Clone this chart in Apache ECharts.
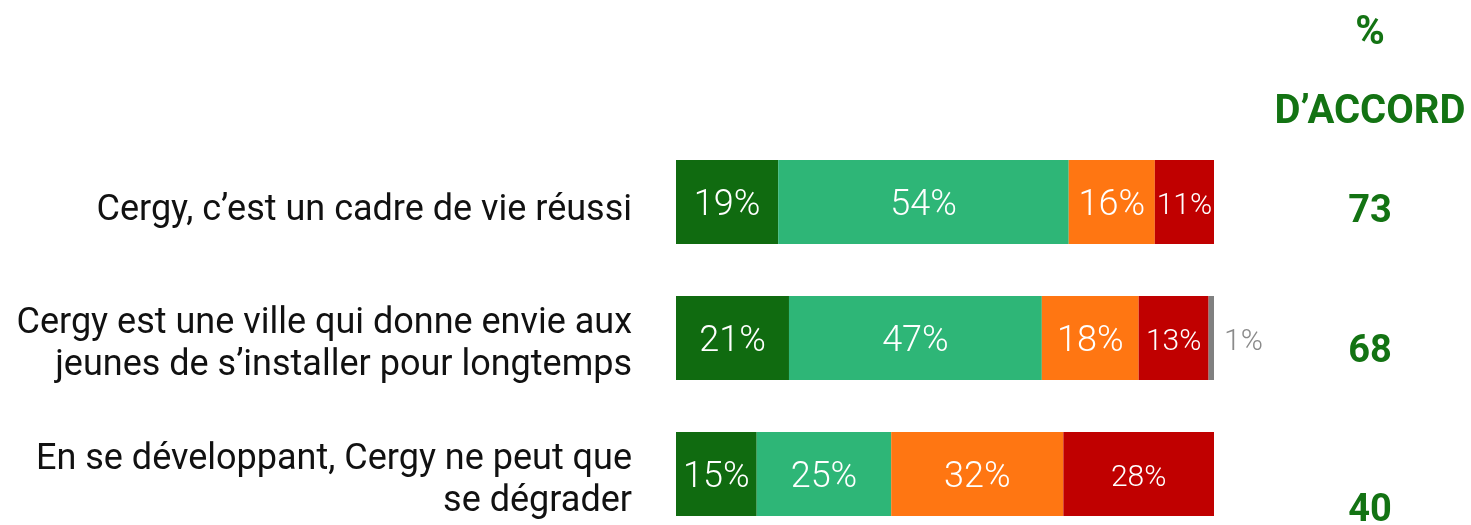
<!DOCTYPE html>
<html>
<head>
<meta charset="utf-8">
<script src="https://cdn.jsdelivr.net/npm/echarts@6/dist/echarts.min.js"></script>
<style>html,body{margin:0;padding:0;background:#fff;}#c{width:1471px;height:525px;}</style>
</head>
<body>
<div id="c"></div>
<script>
var categories = [
  'Cergy, c\u2019est un cadre de vie réussi',
  'Cergy est une ville qui donne envie aux\njeunes de s\u2019installer pour longtemps',
  'En se développant, Cergy ne peut que\nse dégrader'
];
var tresDaccord = [19, 21, 15];
var plutotDaccord = [54, 47, 25];
var plutotPasDaccord = [16, 18, 32];
var pasDuTout = [11, 13, 28];
var nsp = [0, 1, 0];
var totalDaccord = [73, 68, 40];

var colors = ['#106B10', '#2EB677', '#FF7612', '#C00000', '#808080'];
var FONT = 'Roboto';
var GREEN = '#137313';

function barSeries(name, data, color, smallIdx) {
  return {
    name: name, type: 'bar', stack: 'all', barWidth: 84,
    itemStyle: { color: color },
    data: data.map(function (v, i) {
      var small = smallIdx && smallIdx.indexOf(i) >= 0;
      return { value: v, label: { fontSize: small ? 30 : 36 } };
    }),
    label: {
      show: true, position: 'inside', color: '#fff', fontFamily: FONT, fontWeight: 300, offset: [0, 4],
      formatter: function (p) { return p.value > 0 ? p.value + '%' : ''; }
    }
  };
}

var chart = echarts.init(document.getElementById('c'));
chart.setOption({
  animation: false,
  grid: { left: 676, right: 257, top: 202, height: 272, containLabel: false, outerBoundsMode: 'none' },
  xAxis: { type: 'value', min: 0, max: 100, show: false },
  yAxis: [{
    type: 'category', data: categories, inverse: true, boundaryGap: false,
    axisLine: { show: false }, axisTick: { show: false }, splitLine: { show: false },
    axisLabel: {
      margin: 44, align: 'right',
      formatter: function (v, i) { return v.split('\n').map(function (l) { return '{t' + i + '|' + l + '}'; }).join('\n'); },
      rich: {
        t0: { color: '#111', fontFamily: FONT, fontSize: 36, lineHeight: 42, padding: [18, 0, 0, 0] },
        t1: { color: '#111', fontFamily: FONT, fontSize: 36, lineHeight: 42, padding: [14, 0, 0, 0] },
        t2: { color: '#111', fontFamily: FONT, fontSize: 36, lineHeight: 42, padding: [14, 0, 0, 0] }
      }
    }
  }, {
    type: 'category', data: totalDaccord.map(String), inverse: true, boundaryGap: false, position: 'right',
    axisLine: { show: false }, axisTick: { show: false }, splitLine: { show: false },
    axisLabel: {
      margin: 156, align: 'center',
      formatter: function (v, i) { return '{n' + i + '|' + v + '}'; },
      rich: {
        n0: { color: GREEN, fontFamily: FONT, fontWeight: 'bold', fontSize: 38, padding: [20, 0, 0, 0] },
        n1: { color: GREEN, fontFamily: FONT, fontWeight: 'bold', fontSize: 38, padding: [28, 0, 0, 0] },
        n2: { color: GREEN, fontFamily: FONT, fontWeight: 'bold', fontSize: 38, padding: [74, 0, 0, 0] }
      }
    }
  }],
  graphic: [
    { type: 'text', x: 1370, y: 34, style: { text: '%', fill: GREEN, font: 'bold 40px Roboto', textAlign: 'center', textVerticalAlign: 'middle' } },
    { type: 'text', x: 1370, y: 113, style: { text: 'D\u2019ACCORD', fill: GREEN, font: 'bold 40px Roboto', textAlign: 'center', textVerticalAlign: 'middle' } }
  ],
  series: [
    barSeries('Tout à fait d\u2019accord', tresDaccord, colors[0]),
    barSeries('Plutôt d\u2019accord', plutotDaccord, colors[1]),
    barSeries('Plutôt pas d\u2019accord', plutotPasDaccord, colors[2]),
    barSeries('Pas du tout d\u2019accord', pasDuTout, colors[3], [0, 1, 2]),
    {
      name: 'NSP', type: 'bar', stack: 'all', barWidth: 84,
      itemStyle: { color: colors[4] },
      data: nsp,
      label: {
        show: true, position: 'right', distance: 10, color: '#8a8a8a', fontFamily: FONT, fontWeight: 300, fontSize: 30, offset: [0, 4],
        formatter: function (p) { return p.value > 0 ? p.value + '%' : ''; }
      }
    }
  ]
});
</script>
</body>
</html>
